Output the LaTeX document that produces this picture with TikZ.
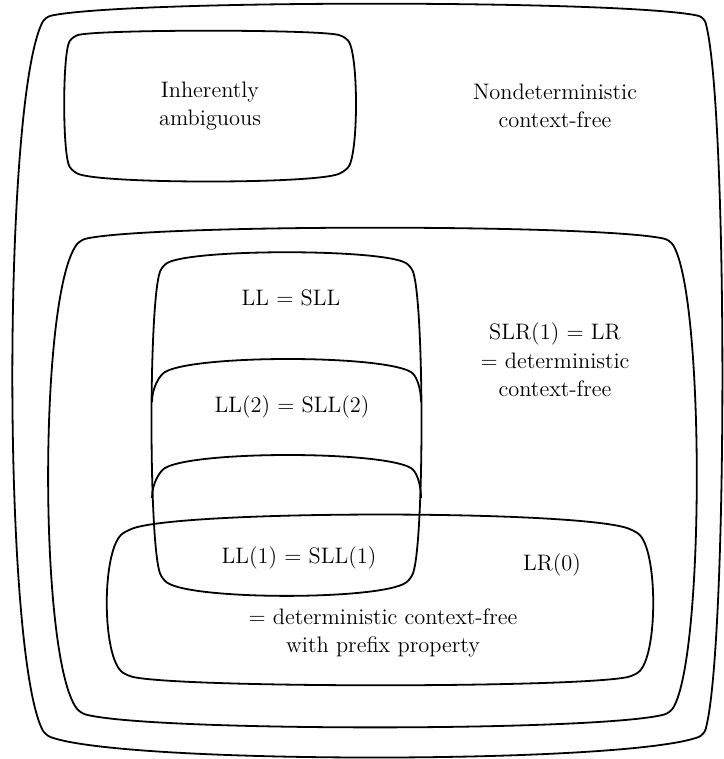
\documentclass[tikz,border=0pt]{standalone}
\usepackage{fontspec}
\usepackage{tikz}
\tikzset{
    every node/.style={align=center, inner sep=0pt,
    	font=\fontsize{11.2}{14.2}\selectfont}
}
\tikzset{
    venn/.style={line width=0.9pt, line join=round}
}
% box with bowed sides: x1,y1,x2,y2, bulge top/right/bottom/left, corner
\newcommand{\bulgebox}[9]{%
  \pgfmathsetmacro\vbw{#3-#1}%
  \pgfmathsetmacro\vbh{#4-#2}%
  \pgfmathsetmacro\vst{4*#5/(0.36*\vbw)}%
  \pgfmathsetmacro\vsr{4*#6/(0.36*\vbh)}%
  \pgfmathsetmacro\vsb{4*#7/(0.36*\vbw)}%
  \pgfmathsetmacro\vsl{4*#8/(0.36*\vbh)}%
  \pgfmathsetmacro\vnt{sqrt(1+\vst*\vst)}%
  \pgfmathsetmacro\vnr{sqrt(1+\vsr*\vsr)}%
  \pgfmathsetmacro\vnb{sqrt(1+\vsb*\vsb)}%
  \pgfmathsetmacro\vnl{sqrt(1+\vsl*\vsl)}%
  \pgfmathsetmacro\vk{0.55*#9}%
  \draw[venn] (#1+#9/\vnt,#2-#9*\vst/\vnt)
    .. controls (#1+0.12*\vbw,#2-4*#5/3) and (#3-0.12*\vbw,#2-4*#5/3)
    .. (#3-#9/\vnt,#2-#9*\vst/\vnt)
    .. controls +(\vk/\vnt,\vk*\vst/\vnt) and +(-\vk*\vsr/\vnr,-\vk/\vnr)
    .. (#3+#9*\vsr/\vnr,#2+#9/\vnr)
    .. controls (#3+4*#6/3,#2+0.12*\vbh) and (#3+4*#6/3,#4-0.12*\vbh)
    .. (#3+#9*\vsr/\vnr,#4-#9/\vnr)
    .. controls +(-\vk*\vsr/\vnr,\vk/\vnr) and +(\vk/\vnb,-\vk*\vsb/\vnb)
    .. (#3-#9/\vnb,#4+#9*\vsb/\vnb)
    .. controls (#3-0.12*\vbw,#4+4*#7/3) and (#1+0.12*\vbw,#4+4*#7/3)
    .. (#1+#9/\vnb,#4+#9*\vsb/\vnb)
    .. controls +(-\vk/\vnb,-\vk*\vsb/\vnb) and +(\vk*\vsl/\vnl,\vk/\vnl)
    .. (#1-#9*\vsl/\vnl,#4-#9/\vnl)
    .. controls (#1-4*#8/3,#4-0.12*\vbh) and (#1-4*#8/3,#2+0.12*\vbh)
    .. (#1-#9*\vsl/\vnl,#2+#9/\vnl)
    .. controls +(\vk*\vsl/\vnl,-\vk/\vnl) and +(-\vk/\vnt,\vk*\vst/\vnt)
    .. (#1+#9/\vnt,#2-#9*\vst/\vnt) -- cycle;
}
% top of an inner class, ending on the sides of the LL box
\newcommand{\archcap}[5]{%
  \pgfmathsetmacro\vbw{#2-#1-23}%
  \pgfmathsetmacro\vst{4*#5/(0.36*\vbw)}%
  \pgfmathsetmacro\vd{0.5*(#4-#3)}%
  \draw[venn] (#1,#4) .. controls +(0,-\vd) and +(-5,5*\vst) .. (#1+13,#3)
    .. controls +(0.12*\vbw,-4*#5/3) and +(-0.12*\vbw,-4*#5/3) .. (#2-10,#3)
    .. controls +(5,5*\vst) and +(0,-\vd) .. (#2,#4);
}

\begin{document}
\begin{tikzpicture}[x=0.5pt, y=-0.5pt]
	\useasboundingbox (0,0) rectangle (723,759);

	\bulgebox{45}{17}{704}{735}{13}{18}{22}{32}{6}
	\bulgebox{73}{36}{344}{172}{5}{11}{9}{8}{6}
	\bulgebox{80}{240}{670}{713}{12}{26}{14}{31}{6}
	\bulgebox{162}{266}{411}{579}{13}{10}{16}{10}{6}
	\archcap{152}{421}{372}{402}{13}
	\archcap{152}{421}{468}{498}{13}
	\bulgebox{128}{530}{633}{676}{15}{19}{9}{20}{6}

	\node (amb) at (210,106) {Inherently\\ambiguous};
	\node (nondet) at (555,106) {Nondeterministic\\context-free};
	\node (ll) at (291,298) {LL = SLL};
	\node (ll2) at (292,407) {LL(2) = SLL(2)};
	\node (slr) at (555,360) {SLR(1) = LR\\= deterministic\\context-free};
	\node (ll1) at (299,558) {LL(1) = SLL(1)};
	\node (lr0) at (552,565) {LR(0)};
	\node (prefix) at (383,633) {= deterministic context-free\\with prefix property};
\end{tikzpicture}
\end{document}
